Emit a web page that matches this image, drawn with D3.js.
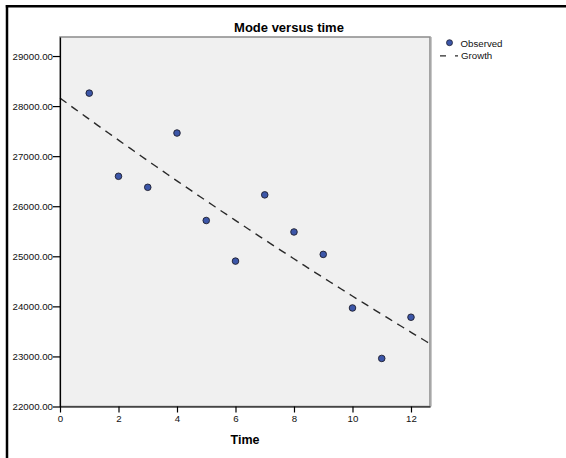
<!DOCTYPE html>
<html>
<head>
<meta charset="utf-8">
<script src="https://cdn.jsdelivr.net/npm/d3@7"></script>
<style>
  html, body { margin: 0; padding: 0; background: #fff; overflow: hidden; }
  svg { display: block; font-family: "Liberation Sans", Arial, sans-serif; }
</style>
</head>
<body>
<svg id="chart" width="566" height="458"></svg>
<script>
// ---- data ----
const times    = [1, 2, 3, 4, 5, 6, 7, 8, 9, 10, 11, 12];
const observed = [28259, 26598, 26378, 27462, 25715, 24904, 26227, 25486, 25038, 23968, 22960, 23783];
const yTicks   = [22000, 23000, 24000, 25000, 26000, 27000, 28000, 29000];
const xTicks   = [0, 2, 4, 6, 8, 10, 12];
const titleText = "Mode versus time";
const xLabel    = "Time";
const legendLabels = ["Observed", "Growth"];

// ---- layout ----
const svg = d3.select("#chart");
const plot = { left: 60, top: 37, right: 430, bottom: 406.5 };

const x = d3.scaleLinear().domain([0, 12.65]).range([plot.left, plot.right]);
const y = d3.scaleLinear().domain([22000, 29380]).range([plot.bottom, plot.top]);

// outer frame: only top and left edges are visible
svg.append("line").attr("x1", 5.8).attr("x2", 566).attr("y1", 6.3).attr("y2", 6.3)
  .attr("stroke", "#000").attr("stroke-width", 2.5);
svg.append("line").attr("x1", 7).attr("x2", 7).attr("y1", 5).attr("y2", 458)
  .attr("stroke", "#000").attr("stroke-width", 2.5);

// plot background
svg.append("rect")
  .attr("x", plot.left).attr("y", plot.top)
  .attr("width", plot.right - plot.left).attr("height", plot.bottom - plot.top)
  .attr("fill", "#f0f0f0").attr("stroke", "#8a8a8a").attr("stroke-width", 1.5);
svg.append("line")
  .attr("x1", plot.right + 1.5).attr("x2", plot.right + 1.5)
  .attr("y1", plot.top).attr("y2", plot.bottom)
  .attr("stroke", "#c8c8c8").attr("stroke-width", 1);

// growth model fit: ln(y) = b0 + b1 * t (least squares on observed data)
const lnY = observed.map(v => Math.log(v));
const mt = d3.mean(times), ml = d3.mean(lnY);
let sxy = 0, sxx = 0;
times.forEach((t, i) => { sxy += (t - mt) * (lnY[i] - ml); sxx += (t - mt) * (t - mt); });
const b1 = sxy / sxx, b0 = ml - b1 * mt;
const fitT = d3.range(0, 12.65 + 1e-9, 12.65 / 100);
const fitPts = fitT.map(t => [t, Math.exp(b0 + b1 * t)]);

svg.append("path")
  .datum(fitPts)
  .attr("fill", "none")
  .attr("stroke", "#2a2a2a")
  .attr("stroke-width", 1.4)
  .attr("stroke-dasharray", "8,6")
  .attr("d", d3.line().x(d => x(d[0])).y(d => y(d[1])));

// observed points
svg.append("g").selectAll("circle")
  .data(times.map((t, i) => [t, observed[i]]))
  .join("circle")
  .attr("cx", d => x(d[0]))
  .attr("cy", d => y(d[1]))
  .attr("r", 3.3)
  .attr("fill", "#3c56a8")
  .attr("stroke", "#1e1e2e")
  .attr("stroke-width", 0.9);

// axes
const yAxis = d3.axisLeft(y).tickValues(yTicks).tickFormat(d3.format(".2f")).tickSize(7).tickSizeOuter(0);
const gy = svg.append("g").attr("transform", `translate(${plot.left},0)`).call(yAxis);
gy.select(".domain").attr("stroke", "#000").attr("stroke-width", 1.2);
gy.selectAll(".tick line").attr("stroke", "#000").attr("stroke-width", 1.2);
gy.selectAll(".tick text").attr("x", -7).attr("dy", "0.34em")
  .attr("font-size", "9.7px").attr("fill", "#111").attr("font-family", "Liberation Sans, Arial, sans-serif");

const xAxis = d3.axisBottom(x).tickValues(xTicks).tickFormat(d3.format("d")).tickSize(6).tickSizeOuter(0);
const gx = svg.append("g").attr("transform", `translate(0,${plot.bottom})`).call(xAxis);
gx.select(".domain").attr("stroke", "#000").attr("stroke-width", 1.2);
gx.selectAll(".tick line").attr("stroke", "#000").attr("stroke-width", 1.2);
gx.selectAll(".tick text").attr("y", 9).attr("dy", "0.71em")
  .attr("font-size", "9.7px").attr("fill", "#111").attr("font-family", "Liberation Sans, Arial, sans-serif");

// title
svg.append("text")
  .attr("x", 289).attr("y", 32)
  .attr("text-anchor", "middle")
  .attr("font-size", "13px").attr("font-weight", "bold").attr("fill", "#000")
  .text(titleText);

// x label
svg.append("text")
  .attr("x", (plot.left + plot.right) / 2).attr("y", 444)
  .attr("text-anchor", "middle")
  .attr("font-size", "12.5px").attr("font-weight", "bold").attr("fill", "#000")
  .text(xLabel);

// legend
const lg = svg.append("g");
lg.append("circle").attr("cx", 449.5).attr("cy", 42.7).attr("r", 3)
  .attr("fill", "#3c56a8").attr("stroke", "#1e1e2e").attr("stroke-width", 0.8);
lg.append("text").attr("x", 460.5).attr("y", 47.3)
  .attr("font-size", "9.7px").attr("fill", "#111").text(legendLabels[0]);
lg.append("line").attr("x1", 440).attr("x2", 458).attr("y1", 55.8).attr("y2", 55.8)
  .attr("stroke", "#2a2a2a").attr("stroke-width", 1.3).attr("stroke-dasharray", "6,9");
lg.append("text").attr("x", 461).attr("y", 59)
  .attr("font-size", "9.7px").attr("fill", "#111").text(legendLabels[1]);
</script>
</body>
</html>
